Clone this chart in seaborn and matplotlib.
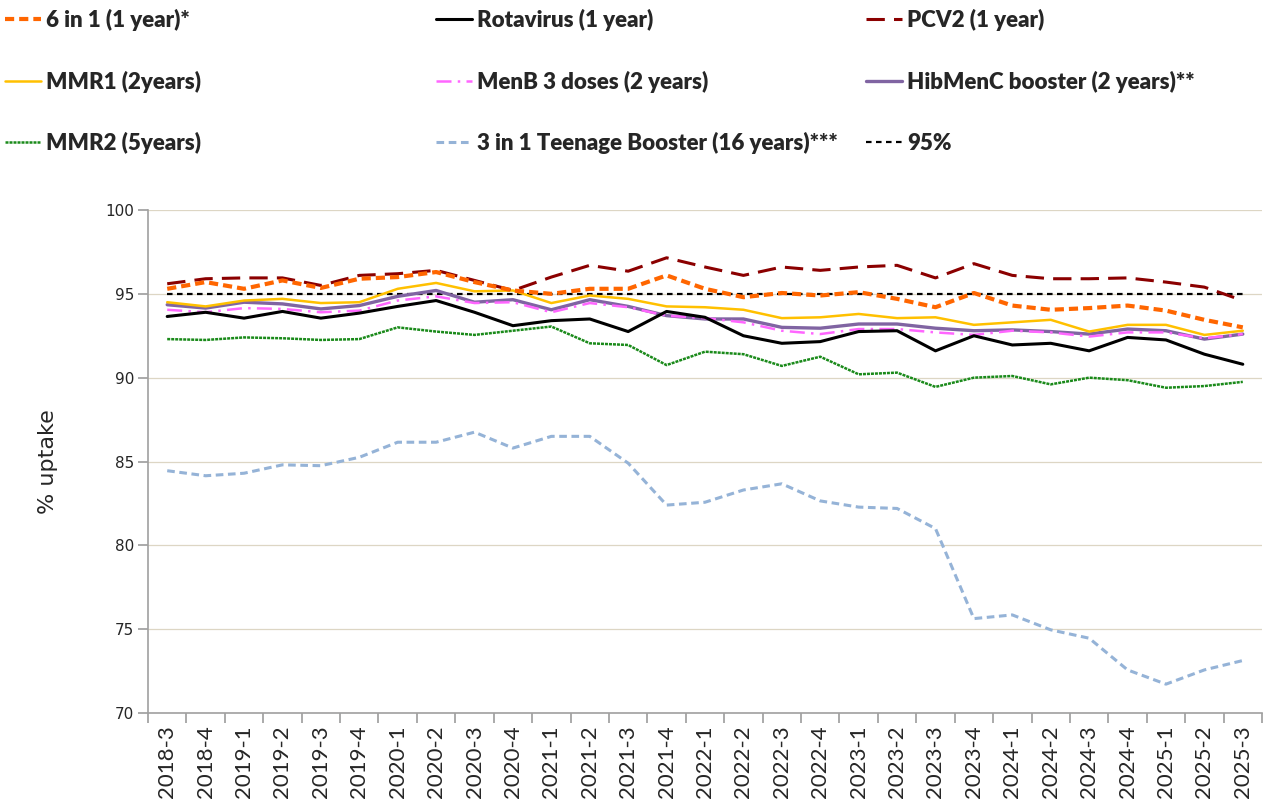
import seaborn as sns
import matplotlib.pyplot as plt
from matplotlib.lines import Line2D
import numpy as np

# quarters on the x axis
quarters = ["2018-3", "2018-4",
            "2019-1", "2019-2", "2019-3", "2019-4",
            "2020-1", "2020-2", "2020-3", "2020-4",
            "2021-1", "2021-2", "2021-3", "2021-4",
            "2022-1", "2022-2", "2022-3", "2022-4",
            "2023-1", "2023-2", "2023-3", "2023-4",
            "2024-1", "2024-2", "2024-3", "2024-4",
            "2025-1", "2025-2", "2025-3"]

six_in_one = [95.3, 95.7, 95.3, 95.8, 95.35, 95.9, 96.0, 96.3, 95.7, 95.2,
              95.0, 95.3, 95.3, 96.1, 95.3, 94.8, 95.05, 94.9, 95.1, 94.7,
              94.2, 95.05, 94.3, 94.05, 94.15, 94.3, 94.0, 93.45, 93.0]
rotavirus = [93.65, 93.9, 93.55, 93.95, 93.55, 93.85, 94.25, 94.6, 93.9, 93.1,
             93.4, 93.5, 92.75, 93.95, 93.6, 92.5, 92.05, 92.15, 92.75, 92.8,
             91.6, 92.5, 91.95, 92.05, 91.6, 92.4, 92.25, 91.4, 90.8]
pcv2 = [95.6, 95.9, 95.95, 95.95, 95.5, 96.1, 96.2, 96.4, 95.8, 95.2,
        96.0, 96.7, 96.35, 97.15, 96.6, 96.1, 96.6, 96.4, 96.6, 96.7,
        95.95, 96.8, 96.1, 95.9, 95.9, 95.95, 95.7, 95.4, 94.6]
mmr1 = [94.5, 94.25, 94.6, 94.7, 94.45, 94.5, 95.3, 95.65, 95.15, 95.2,
        94.45, 94.9, 94.7, 94.25, 94.2, 94.05, 93.55, 93.6, 93.8, 93.55,
        93.6, 93.15, 93.3, 93.45, 92.75, 93.15, 93.15, 92.55, 92.8]
menb = [94.05, 93.9, 94.15, 94.1, 93.9, 94.0, 94.6, 94.85, 94.45, 94.5,
        93.9, 94.45, 94.2, 93.7, 93.55, 93.3, 92.8, 92.6, 92.9, 92.9,
        92.7, 92.55, 92.8, 92.7, 92.45, 92.7, 92.7, 92.35, 92.6]
hibmenc = [94.35, 94.15, 94.5, 94.4, 94.1, 94.3, 94.85, 95.2, 94.5, 94.65,
           94.05, 94.65, 94.25, 93.7, 93.5, 93.5, 93.0, 92.95, 93.2, 93.2,
           92.95, 92.8, 92.85, 92.75, 92.6, 92.9, 92.8, 92.3, 92.6]
mmr2 = [92.3, 92.25, 92.4, 92.35, 92.25, 92.3, 93.0, 92.75, 92.55, 92.8,
        93.05, 92.05, 91.95, 90.75, 91.55, 91.4, 90.7, 91.25, 90.2, 90.3,
        89.45, 90.0, 90.1, 89.6, 90.0, 89.85, 89.4, 89.5, 89.75]
teen_booster = [84.45, 84.15, 84.3, 84.8, 84.75, 85.25, 86.15, 86.15, 86.75, 85.8,
                86.5, 86.5, 84.9, 82.4, 82.57, 83.3, 83.67, 82.65, 82.28, 82.2,
                81.0, 75.63, 75.85, 74.96, 74.46, 72.57, 71.72, 72.57, 73.13]
target = [95] * len(quarters)

series = [
    ("6 in 1 (1 year)*", six_in_one, "#FF6600", 3.0, (0, (2.2, 1.2))),
    ("Rotavirus (1 year)", rotavirus, "#000000", 2.2, "-"),
    ("PCV2 (1 year)", pcv2, "#8B0000", 2.2, (0, (6, 3))),
    ("MMR1 (2years)", mmr1, "#FFC000", 1.8, "-"),
    ("MenB 3 doses (2 years)", menb, "#FF66FF", 1.8, (0, (6, 2.5, 1, 2.5))),
    ("HibMenC booster (2 years)**", hibmenc, "#8064A2", 2.4, "-"),
    ("MMR2 (5years)", mmr2, "#1A8A1A", 1.8, (0, (1.2, 0.4))),
    ("3 in 1 Teenage Booster (16 years)***", teen_booster, "#95B3D7", 2.2, (0, (2.5, 1.5))),
    ("95%", target, "#000000", 1.6, (0, (2.5, 2))),
]

sns.set_theme(style="white")
plt.rcParams["font.family"] = ["DejaVu Sans"]

fig = plt.figure(figsize=(12.63, 7.99), dpi=100)
ax = fig.add_axes([148 / 1263, 1 - 713 / 799, (1262 - 148) / 1263, (713 - 210) / 799])

x = np.arange(len(quarters))
handles = []
# draw the 95% reference first so it sits underneath
for name, vals, color, lw, ls in series[::-1]:
    sns.lineplot(x=x, y=vals, ax=ax, color=color, linewidth=lw, linestyle=ls)
for name, vals, color, lw, ls in series:
    handles.append(Line2D([0], [0], color=color, lw=lw, linestyle=ls))

ax.set_xlim(-0.5, len(quarters) - 0.5)
ax.set_ylim(70, 100)
ax.set_yticks(range(70, 101, 5))
ax.yaxis.grid(True, color="#DDD6C4", linewidth=0.9)
ax.xaxis.grid(False)

# tick marks between categories, labels at centres
ax.set_xticks(np.arange(-0.5, len(quarters), 1))
ax.set_xticklabels([])
ax.set_xticks(x, minor=True)
ax.set_xticklabels(quarters, minor=True, rotation=90, fontsize=16, family="Lato")
ax.tick_params(axis="x", which="major", length=7, color="#A0A0A0", bottom=True, direction="out")
ax.tick_params(axis="x", which="minor", length=0, pad=9)
ax.tick_params(axis="y", length=7, color="#A0A0A0", left=True, direction="out", labelsize=11, pad=3)

for side in ["top", "right"]:
    ax.spines[side].set_visible(False)
for side in ["left", "bottom"]:
    ax.spines[side].set_color("#A0A0A0")
    ax.spines[side].set_linewidth(1.2)

ax.set_xlabel("")
ax.set_ylabel("% uptake", fontsize=16, labelpad=34)

# legend laid out in a 3 x 3 grid above the plot
col_x = [5, 436, 866]
row_y = [20, 82, 143]
for i, (h, s) in enumerate(zip(handles, series)):
    r, c = divmod(i, 3)
    fig.legend(handles=[h], labels=[s[0]], loc="center left",
               bbox_to_anchor=(col_x[c] / 1263, 1 - row_y[r] / 799),
               frameon=False, borderpad=0, borderaxespad=0,
               handlelength=1.6, handletextpad=0.25,
               prop={"family": "Lato", "weight": "heavy", "size": 16})

fig.savefig("out.png", dpi=100)
